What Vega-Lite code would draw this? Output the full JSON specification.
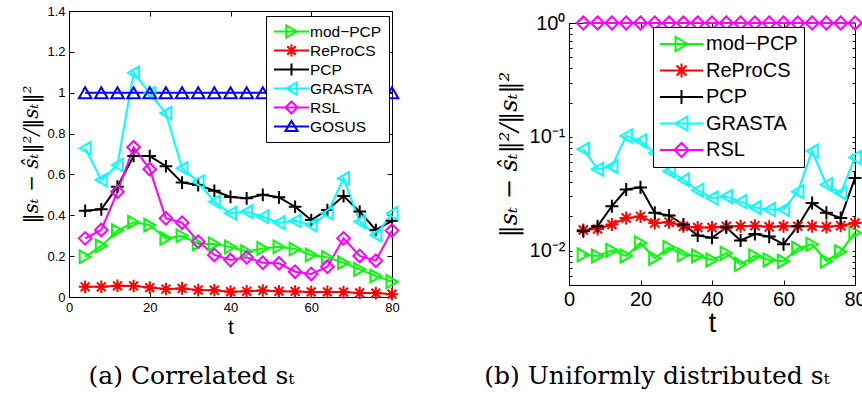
{
  "$schema": "https://vega.github.io/schema/vega-lite/v6.json",
  "padding": {"left": 21, "top": 4, "right": 0, "bottom": 0},
  "config": {
    "font": "Liberation Sans",
    "view": {"stroke": "black", "strokeWidth": 1},
    "axis": {"grid": false, "domainColor": "black", "tickColor": "black", "labelColor": "black", "titleColor": "black", "domainWidth": 1, "tickWidth": 1, "labelFlush": false, "labelBound": false, "labelOverlap": false}
  },
  "datasets": {
    "a": [
      {"t":4,"method":"mod−PCP","v":0.197},{"t":8,"method":"mod−PCP","v":0.25},{"t":12,"method":"mod−PCP","v":0.325},{"t":16,"method":"mod−PCP","v":0.366},{"t":20,"method":"mod−PCP","v":0.352},{"t":24,"method":"mod−PCP","v":0.287},{"t":28,"method":"mod−PCP","v":0.30},{"t":32,"method":"mod−PCP","v":0.26},{"t":36,"method":"mod−PCP","v":0.26},{"t":40,"method":"mod−PCP","v":0.245},{"t":44,"method":"mod−PCP","v":0.222},{"t":48,"method":"mod−PCP","v":0.238},{"t":52,"method":"mod−PCP","v":0.246},{"t":56,"method":"mod−PCP","v":0.235},{"t":60,"method":"mod−PCP","v":0.206},{"t":64,"method":"mod−PCP","v":0.194},{"t":68,"method":"mod−PCP","v":0.168},{"t":72,"method":"mod−PCP","v":0.135},{"t":76,"method":"mod−PCP","v":0.103},{"t":80,"method":"mod−PCP","v":0.075},
      {"t":4,"method":"ReProCS","v":0.05},{"t":8,"method":"ReProCS","v":0.05},{"t":12,"method":"ReProCS","v":0.055},{"t":16,"method":"ReProCS","v":0.054},{"t":20,"method":"ReProCS","v":0.046},{"t":24,"method":"ReProCS","v":0.039},{"t":28,"method":"ReProCS","v":0.042},{"t":32,"method":"ReProCS","v":0.034},{"t":36,"method":"ReProCS","v":0.033},{"t":40,"method":"ReProCS","v":0.026},{"t":44,"method":"ReProCS","v":0.028},{"t":48,"method":"ReProCS","v":0.032},{"t":52,"method":"ReProCS","v":0.028},{"t":56,"method":"ReProCS","v":0.027},{"t":60,"method":"ReProCS","v":0.025},{"t":64,"method":"ReProCS","v":0.025},{"t":68,"method":"ReProCS","v":0.024},{"t":72,"method":"ReProCS","v":0.02},{"t":76,"method":"ReProCS","v":0.019},{"t":80,"method":"ReProCS","v":0.014},
      {"t":4,"method":"PCP","v":0.422},{"t":8,"method":"PCP","v":0.429},{"t":12,"method":"PCP","v":0.54},{"t":16,"method":"PCP","v":0.69},{"t":20,"method":"PCP","v":0.69},{"t":24,"method":"PCP","v":0.64},{"t":28,"method":"PCP","v":0.56},{"t":32,"method":"PCP","v":0.548},{"t":36,"method":"PCP","v":0.52},{"t":40,"method":"PCP","v":0.49},{"t":44,"method":"PCP","v":0.483},{"t":48,"method":"PCP","v":0.50},{"t":52,"method":"PCP","v":0.488},{"t":56,"method":"PCP","v":0.442},{"t":60,"method":"PCP","v":0.377},{"t":64,"method":"PCP","v":0.426},{"t":68,"method":"PCP","v":0.494},{"t":72,"method":"PCP","v":0.418},{"t":76,"method":"PCP","v":0.328},{"t":80,"method":"PCP","v":0.373},
      {"t":4,"method":"GRASTA","v":0.728},{"t":8,"method":"GRASTA","v":0.573},{"t":12,"method":"GRASTA","v":0.646},{"t":16,"method":"GRASTA","v":1.098},{"t":20,"method":"GRASTA","v":0.997},{"t":24,"method":"GRASTA","v":0.90},{"t":28,"method":"GRASTA","v":0.63},{"t":32,"method":"GRASTA","v":0.564},{"t":36,"method":"GRASTA","v":0.466},{"t":40,"method":"GRASTA","v":0.41},{"t":44,"method":"GRASTA","v":0.418},{"t":48,"method":"GRASTA","v":0.393},{"t":52,"method":"GRASTA","v":0.364},{"t":56,"method":"GRASTA","v":0.373},{"t":60,"method":"GRASTA","v":0.352},{"t":64,"method":"GRASTA","v":0.41},{"t":68,"method":"GRASTA","v":0.581},{"t":72,"method":"GRASTA","v":0.369},{"t":76,"method":"GRASTA","v":0.303},{"t":80,"method":"GRASTA","v":0.41},
      {"t":4,"method":"RSL","v":0.287},{"t":8,"method":"RSL","v":0.328},{"t":12,"method":"RSL","v":0.515},{"t":16,"method":"RSL","v":0.733},{"t":20,"method":"RSL","v":0.625},{"t":24,"method":"RSL","v":0.385},{"t":28,"method":"RSL","v":0.364},{"t":32,"method":"RSL","v":0.271},{"t":36,"method":"RSL","v":0.206},{"t":40,"method":"RSL","v":0.181},{"t":44,"method":"RSL","v":0.194},{"t":48,"method":"RSL","v":0.168},{"t":52,"method":"RSL","v":0.165},{"t":56,"method":"RSL","v":0.124},{"t":60,"method":"RSL","v":0.113},{"t":64,"method":"RSL","v":0.148},{"t":68,"method":"RSL","v":0.287},{"t":72,"method":"RSL","v":0.201},{"t":76,"method":"RSL","v":0.178},{"t":80,"method":"RSL","v":0.325},
      {"t":4,"method":"GOSUS","v":1},{"t":8,"method":"GOSUS","v":1},{"t":12,"method":"GOSUS","v":1},{"t":16,"method":"GOSUS","v":1},{"t":20,"method":"GOSUS","v":1},{"t":24,"method":"GOSUS","v":1},{"t":28,"method":"GOSUS","v":1},{"t":32,"method":"GOSUS","v":1},{"t":36,"method":"GOSUS","v":1},{"t":40,"method":"GOSUS","v":1},{"t":44,"method":"GOSUS","v":1},{"t":48,"method":"GOSUS","v":1},{"t":52,"method":"GOSUS","v":1},{"t":56,"method":"GOSUS","v":1},{"t":60,"method":"GOSUS","v":1},{"t":64,"method":"GOSUS","v":1},{"t":68,"method":"GOSUS","v":1},{"t":72,"method":"GOSUS","v":1},{"t":76,"method":"GOSUS","v":1},{"t":80,"method":"GOSUS","v":1}
    ],
    "b": [
      {"t":4,"method":"mod−PCP","v":0.0092},{"t":8,"method":"mod−PCP","v":0.009},{"t":12,"method":"mod−PCP","v":0.0101},{"t":16,"method":"mod−PCP","v":0.009},{"t":20,"method":"mod−PCP","v":0.0117},{"t":24,"method":"mod−PCP","v":0.0086},{"t":28,"method":"mod−PCP","v":0.0107},{"t":32,"method":"mod−PCP","v":0.0092},{"t":36,"method":"mod−PCP","v":0.009},{"t":40,"method":"mod−PCP","v":0.0083},{"t":44,"method":"mod−PCP","v":0.0095},{"t":48,"method":"mod−PCP","v":0.0076},{"t":52,"method":"mod−PCP","v":0.009},{"t":56,"method":"mod−PCP","v":0.0083},{"t":60,"method":"mod−PCP","v":0.0081},{"t":64,"method":"mod−PCP","v":0.0105},{"t":68,"method":"mod−PCP","v":0.0114},{"t":72,"method":"mod−PCP","v":0.0081},{"t":76,"method":"mod−PCP","v":0.0098},{"t":80,"method":"mod−PCP","v":0.0144},
      {"t":4,"method":"ReProCS","v":0.0152},{"t":8,"method":"ReProCS","v":0.0155},{"t":12,"method":"ReProCS","v":0.017},{"t":16,"method":"ReProCS","v":0.0194},{"t":20,"method":"ReProCS","v":0.02},{"t":24,"method":"ReProCS","v":0.0175},{"t":28,"method":"ReProCS","v":0.0178},{"t":32,"method":"ReProCS","v":0.0164},{"t":36,"method":"ReProCS","v":0.016},{"t":40,"method":"ReProCS","v":0.016},{"t":44,"method":"ReProCS","v":0.0164},{"t":48,"method":"ReProCS","v":0.0164},{"t":52,"method":"ReProCS","v":0.0166},{"t":56,"method":"ReProCS","v":0.0162},{"t":60,"method":"ReProCS","v":0.0164},{"t":64,"method":"ReProCS","v":0.0164},{"t":68,"method":"ReProCS","v":0.0164},{"t":72,"method":"ReProCS","v":0.0162},{"t":76,"method":"ReProCS","v":0.0166},{"t":80,"method":"ReProCS","v":0.0175},
      {"t":4,"method":"PCP","v":0.0148},{"t":8,"method":"PCP","v":0.0164},{"t":12,"method":"PCP","v":0.0246},{"t":16,"method":"PCP","v":0.0345},{"t":20,"method":"PCP","v":0.036},{"t":24,"method":"PCP","v":0.0215},{"t":28,"method":"PCP","v":0.0204},{"t":32,"method":"PCP","v":0.017},{"t":36,"method":"PCP","v":0.0136},{"t":40,"method":"PCP","v":0.013},{"t":44,"method":"PCP","v":0.016},{"t":48,"method":"PCP","v":0.0123},{"t":52,"method":"PCP","v":0.014},{"t":56,"method":"PCP","v":0.0133},{"t":60,"method":"PCP","v":0.0114},{"t":64,"method":"PCP","v":0.0164},{"t":68,"method":"PCP","v":0.0263},{"t":72,"method":"PCP","v":0.0215},{"t":76,"method":"PCP","v":0.0194},{"t":80,"method":"PCP","v":0.0436},
      {"t":4,"method":"GRASTA","v":0.078},{"t":8,"method":"GRASTA","v":0.052},{"t":12,"method":"GRASTA","v":0.055},{"t":16,"method":"GRASTA","v":0.102},{"t":20,"method":"GRASTA","v":0.092},{"t":24,"method":"GRASTA","v":0.072},{"t":28,"method":"GRASTA","v":0.05},{"t":32,"method":"GRASTA","v":0.042},{"t":36,"method":"GRASTA","v":0.034},{"t":40,"method":"GRASTA","v":0.029},{"t":44,"method":"GRASTA","v":0.03},{"t":48,"method":"GRASTA","v":0.027},{"t":52,"method":"GRASTA","v":0.024},{"t":56,"method":"GRASTA","v":0.023},{"t":60,"method":"GRASTA","v":0.023},{"t":64,"method":"GRASTA","v":0.033},{"t":68,"method":"GRASTA","v":0.075},{"t":72,"method":"GRASTA","v":0.038},{"t":76,"method":"GRASTA","v":0.032},{"t":80,"method":"GRASTA","v":0.066},
      {"t":4,"method":"RSL","v":1},{"t":8,"method":"RSL","v":1},{"t":12,"method":"RSL","v":1},{"t":16,"method":"RSL","v":1},{"t":20,"method":"RSL","v":1},{"t":24,"method":"RSL","v":1},{"t":28,"method":"RSL","v":1},{"t":32,"method":"RSL","v":1},{"t":36,"method":"RSL","v":1},{"t":40,"method":"RSL","v":1},{"t":44,"method":"RSL","v":1},{"t":48,"method":"RSL","v":1},{"t":52,"method":"RSL","v":1},{"t":56,"method":"RSL","v":1},{"t":60,"method":"RSL","v":1},{"t":64,"method":"RSL","v":1},{"t":68,"method":"RSL","v":1},{"t":72,"method":"RSL","v":1},{"t":76,"method":"RSL","v":1},{"t":80,"method":"RSL","v":1}
    ]
  },
  "bounds": "flush",
  "center": true,
  "spacing": 177,
  "resolve": {"scale": {"x": "independent", "y": "independent", "color": "independent", "shape": "independent"}},
  "hconcat": [
    {
      "width": 323, "height": 286,
      "data": {"name": "a"},
      "title": {"text": "(a) Correlated sₜ", "orient": "bottom", "anchor": "middle", "dx": -39, "offset": 27, "fontSize": 25, "font": "DejaVu Serif", "fontWeight": "normal", "color": "black"},
      "layer": [
        {
          "transform": [{"filter": "datum.t < 0"}],
          "mark": {"type": "point", "filled": false, "strokeWidth": 2, "opacity": 1},
          "encoding": {
            "x": {"field": "t", "type": "quantitative", "scale": {"domain": [0, 80], "nice": false}, "axis": null},
            "y": {"field": "v", "type": "quantitative", "scale": {"domain": [0, 1.4], "nice": false}, "axis": null},
            "color": {"field": "method", "type": "nominal", "scale": {"domain": ["mod−PCP", "ReProCS", "PCP", "GRASTA", "RSL", "GOSUS"], "range": ["#00ff00", "#ff0000", "#000000", "#00ffff", "#ff00ff", "#0000ff"]},
              "legend": {"title": null, "orient": "none", "legendX": 197, "legendY": 5, "symbolSize": 225, "symbolStrokeWidth": 2, "symbolFillColor": "transparent", "symbolOpacity": 1, "labelFontSize": 15.5, "labelColor": "black", "labelOffset": 20, "rowPadding": -4, "padding": 7, "strokeColor": "black", "fillColor": "white"}},
            "shape": {"field": "method", "type": "nominal", "scale": {"domain": ["mod−PCP", "ReProCS", "PCP", "GRASTA", "RSL", "GOSUS"], "range": [
                "M-1,0L3.667,0M2.033,0L0.633,-0.8L0.633,0.8Z",
                "M-1,0L3.667,0M0.533,0L2.133,0M1.333,-0.8L1.333,0.8M0.767,-0.567L1.9,0.567M0.767,0.567L1.9,-0.567",
                "M-1,0L3.667,0M1.333,-0.8L1.333,0.8",
                "M-1,0L3.667,0M0.633,0L2.033,-0.8L2.033,0.8Z",
                "M-1,0L3.667,0M0.533,0L1.333,-0.8L2.133,0L1.333,0.8Z",
                "M-1,0L3.667,0M1.333,-0.75L0.533,0.6L2.133,0.6Z"]},
              "legend": {"title": null, "orient": "none", "legendX": 197, "legendY": 5, "symbolSize": 225, "symbolStrokeWidth": 2, "symbolFillColor": "transparent", "symbolOpacity": 1, "labelFontSize": 15.5, "labelColor": "black", "labelOffset": 20, "rowPadding": -4, "padding": 7, "strokeColor": "black", "fillColor": "white"}}
          }
        },
        {
          "mark": {"type": "line", "strokeWidth": 2},
          "encoding": {
            "x": {"field": "t", "type": "quantitative", "scale": {"domain": [0, 80], "nice": false}, "axis": {"values": [0, 20, 40, 60, 80], "labelFontSize": 13, "title": "t", "titleFontSize": 21, "titleFontWeight": "normal", "titlePadding": 2, "tickSize": -5, "labelPadding": 9}},
            "y": {"field": "v", "type": "quantitative", "scale": {"domain": [0, 1.4], "nice": false}, "axis": {"values": [0, 0.2, 0.4, 0.6, 0.8, 1, 1.2, 1.4], "format": "~g", "labelFontSize": 13, "title": "‖sₜ − ŝₜ‖²/‖sₜ‖²", "titleFont": "DejaVu Serif", "titleFontStyle": "italic", "titleFontSize": 20, "titleFontWeight": "normal", "titlePadding": 5, "tickSize": -5, "labelPadding": 9}},
            "color": {"field": "method", "type": "nominal", "scale": {"domain": ["mod−PCP", "ReProCS", "PCP", "GRASTA", "RSL", "GOSUS"], "range": ["#00ff00", "#ff0000", "#000000", "#00ffff", "#ff00ff", "#0000ff"]}, "legend": null}
          }
        },
        {
          "mark": {"type": "point", "filled": false, "strokeWidth": 2, "size": 160, "opacity": 1},
          "encoding": {
            "x": {"field": "t", "type": "quantitative", "scale": {"domain": [0, 80], "nice": false}, "axis": {"orient": "top", "values": [0, 20, 40, 60, 80], "labels": false, "title": null, "tickSize": -5, "domain": false}},
            "y": {"field": "v", "type": "quantitative", "scale": {"domain": [0, 1.4], "nice": false}, "axis": {"orient": "right", "values": [0, 0.2, 0.4, 0.6, 0.8, 1, 1.2, 1.4], "labels": false, "title": null, "tickSize": -5, "domain": false}},
            "color": {"field": "method", "type": "nominal", "scale": {"domain": ["mod−PCP", "ReProCS", "PCP", "GRASTA", "RSL", "GOSUS"], "range": ["#00ff00", "#ff0000", "#000000", "#00ffff", "#ff00ff", "#0000ff"]}, "legend": null},
            "shape": {"field": "method", "type": "nominal", "scale": {"domain": ["mod−PCP", "ReProCS", "PCP", "GRASTA", "RSL", "GOSUS"], "range": ["triangle-right", "M-1,0L1,0M0,-1L0,1M-0.7,-0.7L0.7,0.7M-0.7,0.7L0.7,-0.7", "M-1,0L1,0M0,-1L0,1", "triangle-left", "diamond", "triangle-up"]}, "legend": null}
          }
        }
      ],
      "resolve": {"scale": {"color": "independent", "shape": "independent"}, "axis": {"x": "independent", "y": "independent"}}
    },
    {
      "width": 286, "height": 262,
      "data": {"name": "b"},
      "title": {"text": "(b) Uniformly distributed sₜ", "orient": "bottom", "anchor": "middle", "dx": -55, "offset": 27, "fontSize": 25, "font": "DejaVu Serif", "fontWeight": "normal", "color": "black"},
      "layer": [
        {
          "transform": [{"filter": "datum.t < 0"}],
          "mark": {"type": "point", "filled": false, "strokeWidth": 2, "opacity": 1},
          "encoding": {
            "x": {"field": "t", "type": "quantitative", "scale": {"domain": [0, 80], "nice": false}, "axis": null},
            "y": {"field": "v", "type": "quantitative", "scale": {"type": "log", "domain": [0.005, 1], "nice": false}, "axis": null},
            "color": {"field": "method", "type": "nominal", "scale": {"domain": ["mod−PCP", "ReProCS", "PCP", "GRASTA", "RSL"], "range": ["#00ff00", "#ff0000", "#000000", "#00ffff", "#ff00ff"]},
              "legend": {"title": null, "orient": "none", "legendX": 84, "legendY": 4, "symbolSize": 400, "symbolStrokeWidth": 2, "symbolFillColor": "transparent", "symbolOpacity": 1, "labelFontSize": 20, "labelColor": "black", "labelOffset": 25, "rowPadding": 4.5, "padding": 6, "strokeColor": "black", "fillColor": "white"}},
            "shape": {"field": "method", "type": "nominal", "scale": {"domain": ["mod−PCP", "ReProCS", "PCP", "GRASTA", "RSL"], "range": [
                "M-1,0L3.3,0M1.75,0L0.55,-0.7L0.55,0.7Z",
                "M-1,0L3.3,0M0.45,0L1.85,0M1.15,-0.7L1.15,0.7M0.655,-0.495L1.645,0.495M0.655,0.495L1.645,-0.495",
                "M-1,0L3.3,0M1.15,-0.7L1.15,0.7",
                "M-1,0L3.3,0M0.55,0L1.75,-0.7L1.75,0.7Z",
                "M-1,0L3.3,0M0.45,0L1.15,-0.7L1.85,0L1.15,0.7Z"]},
              "legend": {"title": null, "orient": "none", "legendX": 84, "legendY": 4, "symbolSize": 400, "symbolStrokeWidth": 2, "symbolFillColor": "transparent", "symbolOpacity": 1, "labelFontSize": 20, "labelColor": "black", "labelOffset": 25, "rowPadding": 4.5, "padding": 6, "strokeColor": "black", "fillColor": "white"}}
          }
        },
        {
          "mark": {"type": "line", "strokeWidth": 2},
          "encoding": {
            "x": {"field": "t", "type": "quantitative", "scale": {"domain": [0, 80], "nice": false}, "axis": {"values": [0, 20, 40, 60, 80], "labelFontSize": 20, "title": "t", "titleFontSize": 28, "titleFontWeight": "normal", "titlePadding": 0, "tickSize": -5, "labelPadding": 9}},
            "y": {"field": "v", "type": "quantitative", "scale": {"type": "log", "domain": [0.005, 1], "nice": false}, "axis": {"values": [0.006, 0.007, 0.008, 0.009, 0.01, 0.02, 0.03, 0.04, 0.05, 0.06, 0.07, 0.08, 0.09, 0.1, 0.2, 0.3, 0.4, 0.5, 0.6, 0.7, 0.8, 0.9, 1], "labelExpr": "datum.value == 1 ? '10⁰' : datum.value == 0.1 ? '10⁻¹' : datum.value == 0.01 ? '10⁻²' : ''", "labelFontSize": 20, "title": "‖sₜ − ŝₜ‖²/‖sₜ‖²", "titleFont": "DejaVu Serif", "titleFontStyle": "italic", "titleFontSize": 24, "titleFontWeight": "normal", "titlePadding": 8, "tickSize": -3, "labelPadding": 7}},
            "color": {"field": "method", "type": "nominal", "scale": {"domain": ["mod−PCP", "ReProCS", "PCP", "GRASTA", "RSL"], "range": ["#00ff00", "#ff0000", "#000000", "#00ffff", "#ff00ff"]}, "legend": null}
          }
        },
        {
          "mark": {"type": "point", "filled": false, "strokeWidth": 2, "size": 170, "opacity": 1},
          "encoding": {
            "x": {"field": "t", "type": "quantitative", "scale": {"domain": [0, 80], "nice": false}, "axis": {"orient": "top", "values": [0, 20, 40, 60, 80], "labels": false, "title": null, "tickSize": -5, "domain": false}},
            "y": {"field": "v", "type": "quantitative", "scale": {"type": "log", "domain": [0.005, 1], "nice": false}, "axis": {"orient": "right", "values": [0.006, 0.007, 0.008, 0.009, 0.01, 0.02, 0.03, 0.04, 0.05, 0.06, 0.07, 0.08, 0.09, 0.1, 0.2, 0.3, 0.4, 0.5, 0.6, 0.7, 0.8, 0.9, 1], "labels": false, "title": null, "tickSize": -3, "domain": false}},
            "color": {"field": "method", "type": "nominal", "scale": {"domain": ["mod−PCP", "ReProCS", "PCP", "GRASTA", "RSL"], "range": ["#00ff00", "#ff0000", "#000000", "#00ffff", "#ff00ff"]}, "legend": null},
            "shape": {"field": "method", "type": "nominal", "scale": {"domain": ["mod−PCP", "ReProCS", "PCP", "GRASTA", "RSL"], "range": ["triangle-right", "M-1,0L1,0M0,-1L0,1M-0.7,-0.7L0.7,0.7M-0.7,0.7L0.7,-0.7", "M-1,0L1,0M0,-1L0,1", "triangle-left", "diamond"]}, "legend": null}
          }
        }
      ],
      "resolve": {"scale": {"color": "independent", "shape": "independent"}, "axis": {"x": "independent", "y": "independent"}}
    }
  ]
}
